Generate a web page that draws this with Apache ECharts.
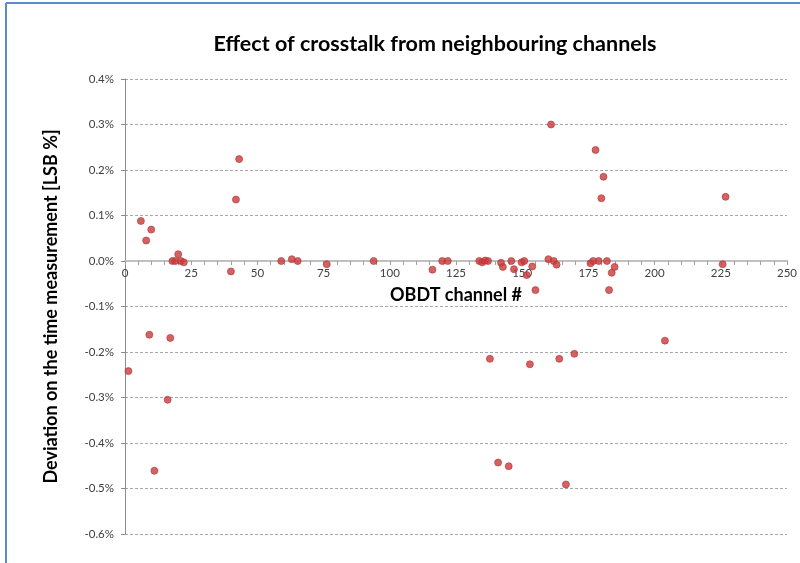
<!DOCTYPE html>
<html>
<head>
<meta charset="utf-8">
<script src="https://cdn.jsdelivr.net/npm/echarts@6/dist/echarts.min.js"></script>
<style>
html,body{margin:0;padding:0;background:#fff;}
#chart{width:800px;height:563px;}
</style>
</head>
<body>
<div id="chart"></div>
<script>
// OBDT channel numbers
var channels = [1.3, 6.0, 8.0, 9.2, 9.9, 11.1, 16.1, 17.1, 17.9, 19.0, 20.1, 21.1, 22.2,
  40.0, 41.9, 43.1, 59.0, 63.0, 65.2, 76.2, 93.9, 116.1, 119.8, 121.9,
  133.8, 134.9, 136.0, 137.1, 137.8, 140.9, 142.0, 142.7, 144.9, 145.9, 146.9,
  149.8, 150.8, 151.7, 152.9, 153.8, 155.0, 159.9, 160.9, 161.9, 163.0, 164.0,
  166.5, 169.7, 175.8, 176.8, 177.7, 178.9, 179.9, 180.7, 182.0, 182.8, 183.8,
  184.9, 203.9, 225.7, 226.8];
// Deviation on the time measurement [LSB %]
var deviations = [-0.242, 0.088, 0.045, -0.162, 0.069, -0.461, -0.305, -0.169, 0.0, 0.0, 0.015, 0.0, -0.003,
  -0.023, 0.135, 0.224, 0.0, 0.004, 0.0, -0.007, 0.0, -0.019, 0.0, 0.0,
  0.0, -0.003, 0.001, 0.0, -0.215, -0.443, -0.004, -0.013, -0.451, 0.0, -0.018,
  -0.003, 0.0, -0.031, -0.227, -0.012, -0.064, 0.004, 0.300, 0.0, -0.008, -0.215,
  -0.491, -0.204, -0.005, 0.0, 0.244, 0.0, 0.138, 0.185, 0.0, -0.064, -0.026,
  -0.013, -0.175, -0.007, 0.141];

var titleText = 'Effect of crosstalk from neighbouring channels';
var xName = 'OBDT channel #';
var yName = 'Deviation on the time measurement [LSB %]';

var points = channels.map(function (c, i) { return [c, deviations[i]]; });

var font = 'Lato, "Open Sans", sans-serif';
var chart = echarts.init(document.getElementById('chart'));
chart.setOption({
  animation: false,
  backgroundColor: '#ffffff',
  title: {
    text: titleText,
    left: 430, top: 28, textAlign: 'center',
    textStyle: {fontFamily: font, fontSize: 21.5, fontWeight: 'bold', color: '#000'}
  },
  graphic: [
    {type: 'line', shape: {x1: 6, y1: 3, x2: 800, y2: 3}, style: {stroke: '#5b8cc8', lineWidth: 2}, silent: true},
    {type: 'line', shape: {x1: 6, y1: 3, x2: 6, y2: 563}, style: {stroke: '#5b8cc8', lineWidth: 2}, silent: true}
  ],
  grid: {left: 125, right: 13, top: 79, bottom: 29, containLabel: false, outerBoundsMode: 'none'},
  xAxis: {
    type: 'value', min: 0, max: 250, interval: 25,
    position: 'bottom', offset: 0,
    name: xName, nameLocation: 'middle', nameGap: 25,
    nameTextStyle: {fontFamily: font, fontSize: 18, fontWeight: 'bold', color: '#000'},
    axisLine: {onZero: false, lineStyle: {color: '#c0c0c0', width: 2}},
    axisTick: {show: true, length: 4, lineStyle: {color: '#a0a0a0'}},
    minorTick: {show: true, splitNumber: 5, length: 4, lineStyle: {color: '#a0a0a0'}},
    axisLabel: {fontFamily: font, fontSize: 11.5, color: '#404040', margin: 6},
    splitLine: {show: false}
  },
  yAxis: {
    type: 'value', min: -0.6, max: 0.4, interval: 0.1,
    name: yName, nameLocation: 'middle', nameGap: 65, nameRotate: 90,
    nameTextStyle: {fontFamily: font, fontSize: 18, fontWeight: 'bold', color: '#000'},
    axisLine: {show: true, onZero: false, lineStyle: {color: '#8c8c8c', width: 1}},
    axisTick: {show: true, length: 4, lineStyle: {color: '#8c8c8c'}},
    axisLabel: {
      fontFamily: font, fontSize: 11.5, color: '#404040', margin: 11,
      formatter: function (v) { var r = Math.round(v * 10) / 10; if (Math.abs(r) < 1e-9) r = 0; return r.toFixed(1) + '%'; }
    },
    splitLine: {show: true, lineStyle: {color: '#a8a8a8', type: [3, 2], width: 1}}
  },
  series: [{
    type: 'scatter',
    data: points,
    symbol: 'circle',
    symbolSize: 7,
    itemStyle: {color: '#c83c3c', borderColor: '#b83232', borderWidth: 0.8},
    z: 3
  }]
});
// Move the x axis line onto y = 0 using the library's own scale
var yZero = chart.convertToPixel({yAxisIndex: 0}, 0);
var yBottom = chart.convertToPixel({yAxisIndex: 0}, -0.6);
chart.setOption({xAxis: {offset: yZero - yBottom}});
</script>
</body>
</html>
